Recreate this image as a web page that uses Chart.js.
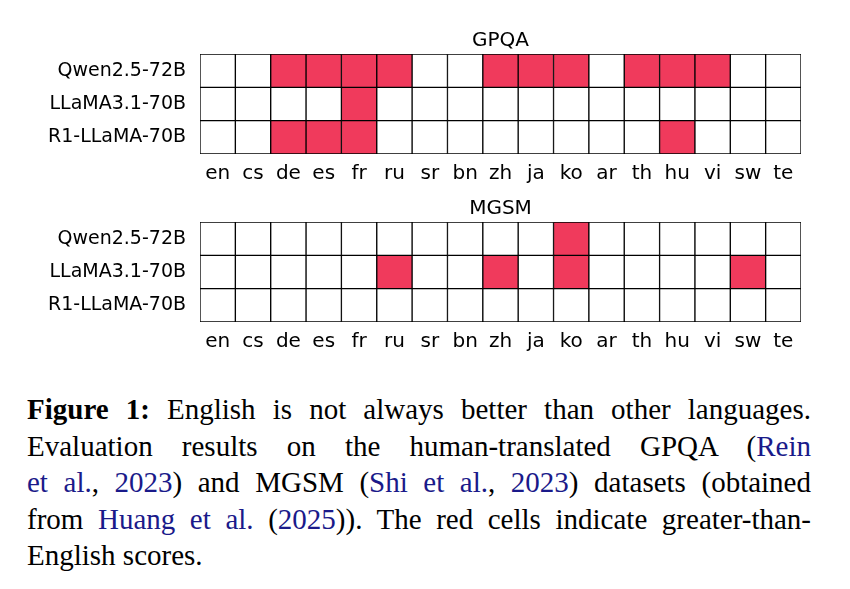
<!DOCTYPE html>
<html><head><meta charset="utf-8">
<script src="https://cdn.jsdelivr.net/npm/chart.js@4"></script>
<style>
body{margin:0;background:#fff;width:850px;height:589px;position:relative;overflow:hidden}
.c{position:absolute;left:0;width:830px}
#cap{position:absolute;left:27px;top:391px;width:784px;font-family:"Liberation Serif",serif;font-size:29px;line-height:36.5px;color:#000}
#cap div{text-align:justify;text-align-last:justify;white-space:nowrap}
#cap div.l{text-align-last:left}
#cap a{color:#1a1a8a;text-decoration:none}
</style></head><body>
<div class="c" style="top:24px;height:162px"><canvas id="g1"></canvas></div>
<div class="c" style="top:192px;height:162px"><canvas id="g2"></canvas></div>
<div id="cap">
<div><b>Figure 1:</b> English is not always better than other languages.</div>
<div>Evaluation results on the human-translated GPQA (<a>Rein</a></div>
<div><a>et al.</a>, <a>2023</a>) and MGSM (<a>Shi et al.</a>, <a>2023</a>) datasets (obtained</div>
<div>from <a>Huang et al.</a> (<a>2025</a>)). The red cells indicate greater-than-</div>
<div class="l">English scores.</div>
</div>
<script>
const languages=["en","cs","de","es","fr","ru","sr","bn","zh","ja","ko","ar","th","hu","vi","sw","te"];
const models=["Qwen2.5-72B","LLaMA3.1-70B","R1-LLaMA-70B"];
const gpqaQwen=[0,0,1,1,1,1,0,0,1,1,1,0,1,1,1,0,0];
const gpqaLlama=[0,0,0,0,1,0,0,0,0,0,0,0,0,0,0,0,0];
const gpqaR1=[0,0,1,1,1,0,0,0,0,0,0,0,0,1,0,0,0];
const mgsmQwen=[0,0,0,0,0,0,0,0,0,0,1,0,0,0,0,0,0];
const mgsmLlama=[0,0,0,0,0,1,0,0,1,0,1,0,0,0,0,1,0];
const mgsmR1=[0,0,0,0,0,0,0,0,0,0,0,0,0,0,0,0,0];
const RED="#f03a5c";
const F="DejaVu Sans";
function make(id,title,rows){
  new Chart(document.getElementById(id),{type:'bar',
    data:{labels:languages,datasets:rows.map((r,i)=>({data:r.map(()=>[i-0.5,i+0.5]),
      backgroundColor:r.map(v=>v?RED:"#fff"),borderColor:"#000",borderWidth:1,borderSkipped:false,
      barPercentage:1,categoryPercentage:1,grouped:false}))},
    plugins:[{id:'t',afterDraw(c){const a=c.chartArea,x=c.ctx;x.save();x.fillStyle="#000";x.font="20px "+F;
      x.textAlign="center";x.textBaseline="bottom";x.fillText(title,(a.left+a.right)/2,a.top-3);x.restore();}}],
    options:{responsive:true,maintainAspectRatio:false,animation:false,
      layout:{padding:{right:29,top:30,bottom:0}},
      plugins:{legend:{display:false},tooltip:{enabled:false},title:{display:false}},
      scales:{
        x:{grid:{display:false},border:{display:false},ticks:{color:"#000",font:{family:F,size:20},padding:0}},
        y:{min:-0.5,max:2.5,reverse:true,grid:{display:false},border:{display:false},
          afterFit:s=>{s.width=200},
          afterBuildTicks:s=>{s.ticks=[0,1,2].map(v=>({value:v}))},
          ticks:{color:"#000",font:{family:F,size:19},callback:v=>models[v],padding:6}}}}});
}
make("g1","GPQA",[gpqaQwen,gpqaLlama,gpqaR1]);
make("g2","MGSM",[mgsmQwen,mgsmLlama,mgsmR1]);
</script></body></html>
